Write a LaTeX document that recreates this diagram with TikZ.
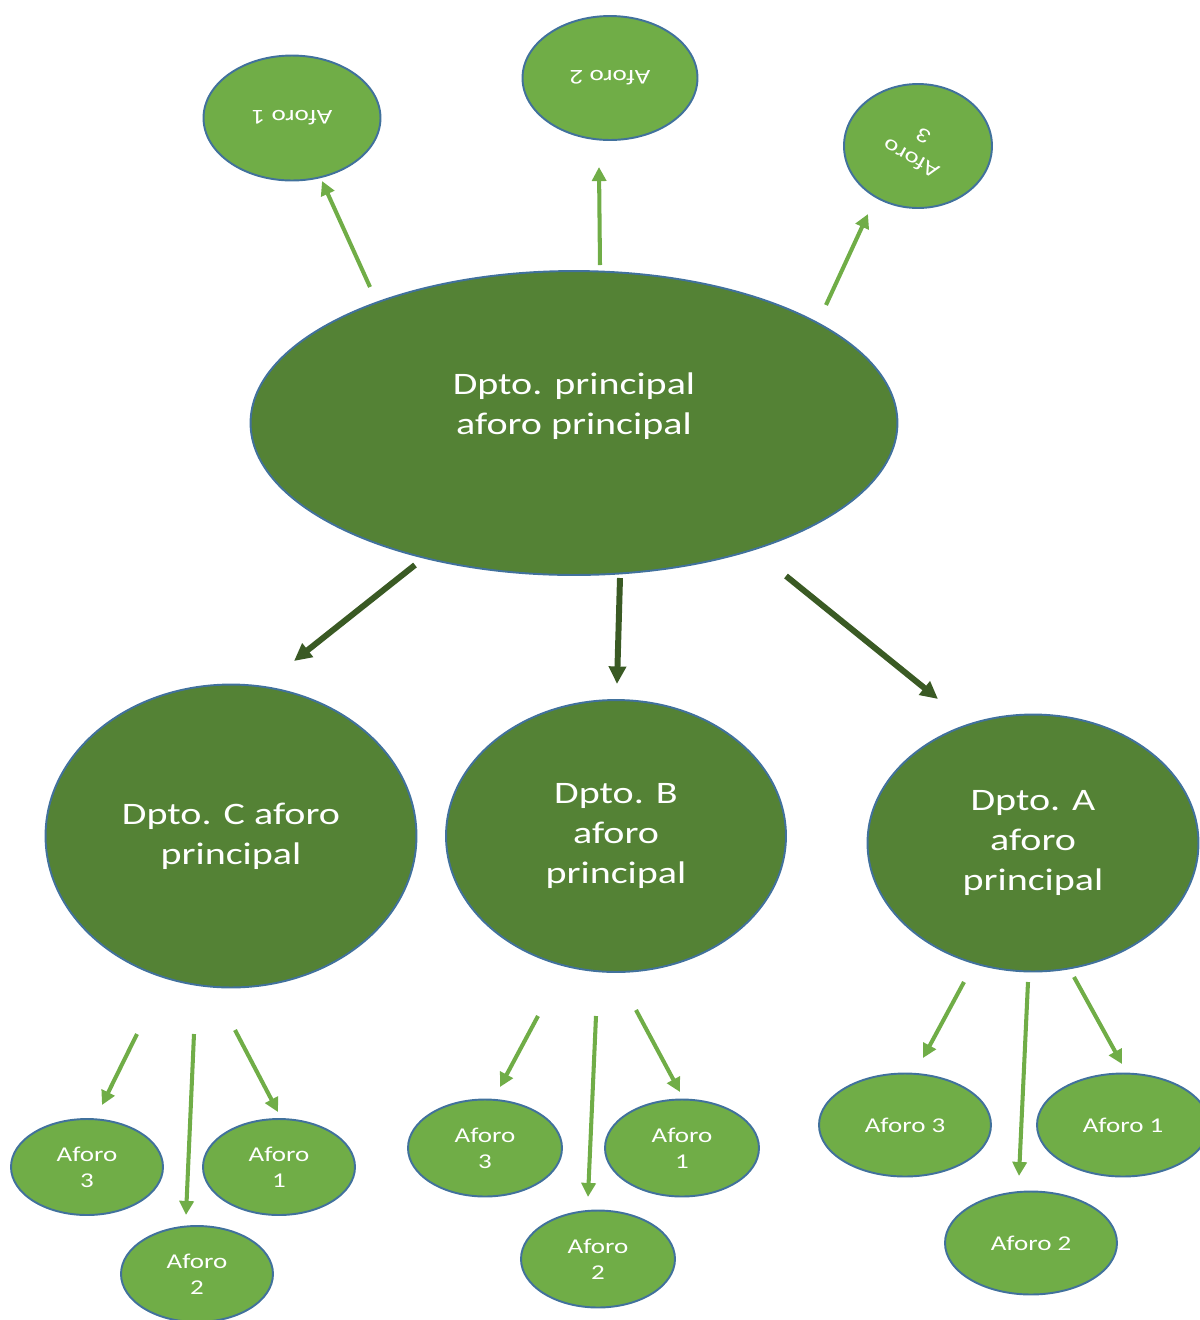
\documentclass[tikz,border=0pt]{standalone}
\usepackage{fontspec}
\setmainfont{Carlito}[FakeStretch=1.28]
\usetikzlibrary{shapes.geometric,arrows.meta}
\definecolor{verdeosc}{HTML}{548235}
\definecolor{verdeclaro}{HTML}{70AD47}
\definecolor{verdeflecha}{HTML}{3A5A24}
\definecolor{borde}{HTML}{41719C}
\tikzset{
  dpto/.style={ellipse, draw=borde, line width=1.1pt, fill=verdeosc, text=white,
    font=\fontsize{17.8}{22.6}\selectfont, align=center, inner sep=0pt},
  aforo/.style={ellipse, draw=borde, line width=1.1pt, fill=verdeclaro, text=white,
    font=\fontsize{12}{14.7}\selectfont, align=center, inner sep=0pt},
  flecha/.style={verdeclaro, line width=2.3pt, -{Triangle[length=8pt,width=8pt]}},
  flechaosc/.style={verdeflecha, line width=3.4pt, -{Triangle[length=10pt,width=9.5pt]}}
}

\begin{document}
\begin{tikzpicture}[x=0.02cm,y=-0.02cm]
	%%%%% START %%%%%
	\useasboundingbox (0,0) rectangle (1200,1320);
	\clip (0,0) rectangle (1200,1320);
	
	% principal
	\node[dpto, text depth=22pt, minimum width=12.94cm, minimum height=6.08cm] (principal) at (574, 423) {Dpto. principal\\aforo principal};
	
	% aforos de arriba
	\node[aforo, rotate=180, minimum width=3.54cm, minimum height=2.5cm] (arr1) at (292, 118) {Aforo 1};
	\node[aforo, rotate=180, minimum width=3.5cm, minimum height=2.48cm] (arr2) at (610, 78) {Aforo 2};
	\node[aforo, rotate=180, minimum width=2.96cm, minimum height=2.48cm] (arr3) at (918, 146) {\rotatebox[origin=c]{-29}{\begin{tabular}{@{}c@{}}Aforo\\3\end{tabular}}};
	
	\coordinate (a1s) at (370, 287); \coordinate (a1e) at (322, 181);
	\coordinate (a2s) at (600, 265); \coordinate (a2e) at (599, 167);
	\coordinate (a3s) at (826, 305); \coordinate (a3e) at (868, 214);
	\draw[flecha] (a1s) -- (a1e);
	\draw[flecha] (a2s) -- (a2e);
	\draw[flecha] (a3s) -- (a3e);
	
	% departamentos
	\node[dpto, minimum width=7.42cm, minimum height=6.06cm] (dptoC) at (231, 836) {Dpto. C aforo\\principal};
	\node[dpto, minimum width=6.8cm, minimum height=5.44cm] (dptoB) at (616, 836) {Dpto. B\\aforo\\principal};
	\node[dpto, minimum width=6.62cm, minimum height=5.14cm] (dptoA) at (1033, 843) {Dpto. A\\aforo\\principal};
	
	\coordinate (dCs) at (415, 565); \coordinate (dCe) at (294, 661);
	\coordinate (dBs) at (620, 578); \coordinate (dBe) at (617, 684);
	\coordinate (dAs) at (786, 576); \coordinate (dAe) at (938, 699);
	\draw[flechaosc] (dCs) -- (dCe);
	\draw[flechaosc] (dBs) -- (dBe);
	\draw[flechaosc] (dAs) -- (dAe);
	
	% aforos Dpto. C
	\node[aforo, minimum width=3.04cm, minimum height=1.92cm] (c3) at (87, 1167) {Aforo\\3};
	\node[aforo, minimum width=3.04cm, minimum height=1.92cm] (c1) at (279, 1167) {Aforo\\1};
	\node[aforo, minimum width=3.04cm, minimum height=1.92cm] (c2) at (197, 1274) {Aforo\\2};
	\coordinate (c3s) at (137, 1034); \coordinate (c3e) at (102, 1105);
	\coordinate (c2s) at (194, 1034); \coordinate (c2e) at (186, 1215);
	\coordinate (c1s) at (235, 1030); \coordinate (c1e) at (278, 1112);
	\draw[flecha] (c3s) -- (c3e);
	\draw[flecha] (c2s) -- (c2e);
	\draw[flecha] (c1s) -- (c1e);
	
	% aforos Dpto. B
	\node[aforo, minimum width=3.08cm, minimum height=1.94cm] (b3) at (485, 1148) {Aforo\\3};
	\node[aforo, minimum width=3.08cm, minimum height=1.94cm] (b1) at (682, 1148) {Aforo\\1};
	\node[aforo, minimum width=3.08cm, minimum height=1.94cm] (b2) at (598, 1259) {Aforo\\2};
	\coordinate (b3s) at (538, 1016); \coordinate (b3e) at (500, 1087);
	\coordinate (b2s) at (596, 1016); \coordinate (b2e) at (588, 1197);
	\coordinate (b1s) at (636, 1010); \coordinate (b1e) at (680, 1092);
	\draw[flecha] (b3s) -- (b3e);
	\draw[flecha] (b2s) -- (b2e);
	\draw[flecha] (b1s) -- (b1e);
	
	% aforos Dpto. A
	\node[aforo, minimum width=3.44cm, minimum height=2.06cm] (a3) at (905, 1125) {Aforo 3};
	\node[aforo, minimum width=3.44cm, minimum height=2.06cm] (a1) at (1123, 1125) {Aforo 1};
	\node[aforo, minimum width=3.44cm, minimum height=2.06cm] (a2) at (1031, 1243) {Aforo 2};
	\coordinate (x3s) at (964, 982); \coordinate (x3e) at (923, 1058);
	\coordinate (x2s) at (1028, 982); \coordinate (x2e) at (1019, 1176);
	\coordinate (x1s) at (1074, 977); \coordinate (x1e) at (1122, 1064);
	\draw[flecha] (x3s) -- (x3e);
	\draw[flecha] (x2s) -- (x2e);
	\draw[flecha] (x1s) -- (x1e);
	
	%%%%% END %%%%%
\end{tikzpicture}
\end{document}
